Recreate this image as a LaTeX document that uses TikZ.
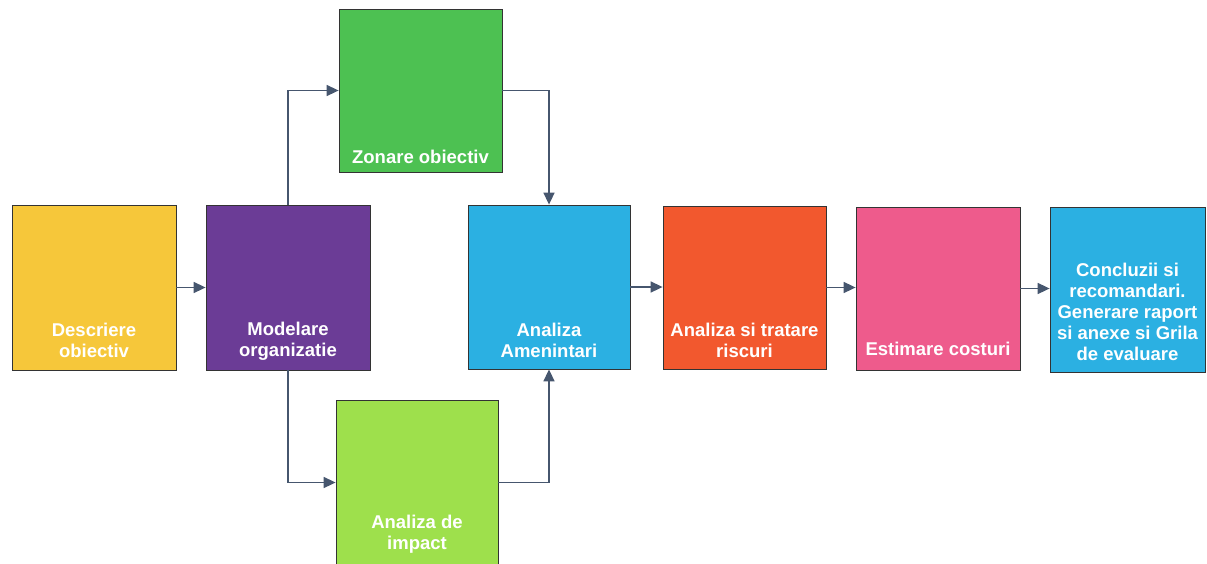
\documentclass[tikz,border=0pt]{standalone}
\usepackage{fontspec}
\setmainfont{Liberation Sans}
\usetikzlibrary{arrows.meta}
\definecolor{cyel}{HTML}{F6C73A}
\definecolor{cpur}{HTML}{6B3C96}
\definecolor{cgrn}{HTML}{4DC152}
\definecolor{clgr}{HTML}{9EE04C}
\definecolor{ccya}{HTML}{2BB0E2}
\definecolor{cred}{HTML}{F2582E}
\definecolor{cpnk}{HTML}{EE5B8C}
\definecolor{carr}{HTML}{46566E}
\tikzset{
  boxnode/.style={draw=black!80, line width=0.8pt, inner sep=0pt},
  txt/.style={text=white, font=\fontsize{18.5}{21}\selectfont\bfseries, align=center, inner sep=0pt, anchor=south},
  conn/.style={draw=carr, line width=1.6pt, -{Triangle[length=12pt,width=11pt]}}
}
\begin{document}
\begin{tikzpicture}[x=1pt,y=-1pt]
\useasboundingbox (0,0) rectangle (1207,563);
% boxes
\node[boxnode, fill=cyel, minimum width=164pt, minimum height=165pt] (b1) at (94,287.5) {};
\node[boxnode, fill=cpur, minimum width=164pt, minimum height=165pt] (b2) at (288,287.5) {};
\node[boxnode, fill=cgrn, minimum width=163pt, minimum height=163pt] (b3) at (420.5,90.5) {};
\node[boxnode, fill=clgr, minimum width=162pt, minimum height=165pt] (b4) at (417,482.5) {};
\node[boxnode, fill=ccya, minimum width=162pt, minimum height=164pt] (b5) at (549,287) {};
\node[boxnode, fill=cred, minimum width=163pt, minimum height=163pt] (b6) at (744.5,287.5) {};
\node[boxnode, fill=cpnk, minimum width=164pt, minimum height=163pt] (b7) at (938,288.5) {};
\node[boxnode, fill=ccya, minimum width=155pt, minimum height=165pt] (b8) at (1127.5,289.5) {};
% texts
\node[txt] (t1) at (94,358) {Descriere\\obiectiv};
\node[txt] (t2) at (288,361) {Modelare\\organizatie};
\node[txt] (t3) at (420.5,164) {Zonare obiectiv};
\node[txt] (t4) at (417,554) {Analiza de\\impact};
\node[txt] (t5) at (549,358) {Analiza\\Amenintari};
\node[txt] (t6) at (744.5,358) {Analiza si tratare\\riscuri};
\node[txt] (t7) at (938,356) {Estimare costuri};
\node[txt] (t8) at (1127.5,361) {Concluzii si\\recomandari.\\Generare raport\\si anexe si Grila\\de evaluare};
% connectors
\draw[conn] (b1.east) -- (b2.west);
\draw[conn] (b2.north) |- (b3.west);
\draw[conn] (b2.south) |- (b4.west);
\draw[conn] (b3.east) -| (b5.north);
\draw[conn] (b4.east) -| (b5.south);
\draw[conn] (b5.east) -- (b5.east -| b6.west);
\draw[conn] (b6.east) -- (b6.east -| b7.west);
\draw[conn] (b7.east) -- (b7.east -| b8.west);
\end{tikzpicture}
\end{document}
